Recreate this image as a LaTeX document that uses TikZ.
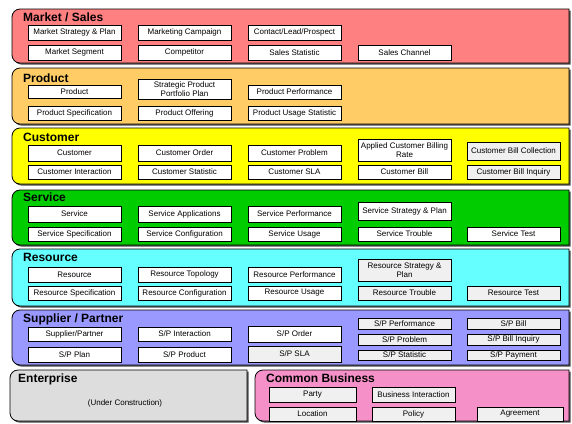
\documentclass[tikz,border=0pt]{standalone}
\usepackage{fontspec}
\setmainfont{Liberation Sans}
\usetikzlibrary{shadows}

\definecolor{mktc}{RGB}{255,128,128}
\definecolor{prdc}{RGB}{255,204,102}
\definecolor{cusc}{RGB}{255,255,0}
\definecolor{srvc}{RGB}{0,204,0}
\definecolor{resc}{RGB}{102,255,255}
\definecolor{supc}{RGB}{153,153,255}
\definecolor{entc}{RGB}{221,221,221}
\definecolor{comc}{RGB}{245,145,200}

\tikzset{
  ent/.style={draw=black, line width=0.7pt, fill=white, inner sep=0pt,
    align=center, font=\fontsize{8}{9}\selectfont,
    drop shadow={shadow xshift=1.2pt, shadow yshift=-1.2pt, fill=black!75, opacity=1}},
  entgrey/.style={ent, fill=black!6},
  paneltitle/.style={anchor=base west, inner sep=0pt, font=\fontsize{12}{12}\selectfont\bfseries},
}

% domain panel: rounded on the left, square on the right, with a shadow
\newcommand\panel[5]{%
  \fill[black!70, xshift=1.6pt, yshift=-1.6pt]
    ({#3},{#2}) -- ({#1+8},{#2}) .. controls ({#1+3.6},{#2}) and ({#1},{#2+3.6}) .. ({#1},{#2+8})
    -- ({#1},{#4-8}) .. controls ({#1},{#4-3.6}) and ({#1+3.6},{#4}) .. ({#1+8},{#4})
    -- ({#3},{#4}) -- cycle;
  \filldraw[fill=#5, draw=black, line width=0.8pt]
    ({#3},{#2}) -- ({#1+8},{#2}) .. controls ({#1+3.6},{#2}) and ({#1},{#2+3.6}) .. ({#1},{#2+8})
    -- ({#1},{#4-8}) .. controls ({#1},{#4-3.6}) and ({#1+3.6},{#4}) .. ({#1+8},{#4})
    -- ({#3},{#4}) -- cycle;
}

% entity box given by its corners
\newcommand\entbox[7][ent]{%
  \node[#1, minimum width={(#5-#3)*1pt}, minimum height={(#6-#4)*1pt}]
    (#2) at ({(#3+#5)/2},{(#4+#6)/2}) {#7};
}

\begin{document}
\begin{tikzpicture}[x=1pt, y=-1pt]
\useasboundingbox (0,0) rectangle (572,423);
\fill[white] (0,0) rectangle (572,423);

% ---------------- Market / Sales
\panel{12}{9}{569}{63}{mktc}
\node[paneltitle] (tMkt) at (23,21) {Market / Sales};
\entbox{mStrat}{28}{25}{121}{40}{Market Strategy \& Plan}
\entbox{mCamp}{138}{25}{231}{40}{Marketing Campaign}
\entbox{mLead}{248}{25}{341}{40}{Contact/Lead/Prospect}
\entbox{mSeg}{28}{45}{121}{60}{Market Segment}
\entbox{mComp}{138}{45}{231}{60}{Competitor}
\entbox{mStat}{248}{45}{341}{60}{Sales Statistic}
\entbox{mChan}{358}{45}{451}{60}{Sales Channel}

% ---------------- Product
\panel{12}{68}{569}{124}{prdc}
\node[paneltitle] (tPrd) at (23,82) {Product};
\entbox{pProd}{28}{85}{121}{98}{Product}
\entbox{pPort}{138}{79}{231}{99}{Strategic Product\\Portfolio Plan}
\entbox{pPerf}{248}{85}{341}{99}{Product Performance}
\entbox{pSpec}{28}{106}{121}{120}{Product Specification}
\entbox{pOff}{138}{106}{231}{120}{Product Offering}
\entbox{pUse}{248}{106}{341}{120}{Product Usage Statistic}

% ---------------- Customer
\panel{12}{128}{569}{184}{cusc}
\node[paneltitle] (tCus) at (23,141) {Customer};
\entbox{cCust}{28}{145}{121}{161}{Customer}
\entbox{cOrder}{138}{145}{231}{161}{Customer Order}
\entbox{cProb}{248}{145}{341}{161}{Customer Problem}
\entbox{cRate}{358}{139}{451}{161}{Applied Customer Billing\\Rate}
\entbox[entgrey]{cColl}{467}{142}{560}{160}{Customer Bill Collection}
\entbox{cInter}{28}{165}{121}{179}{Customer Interaction}
\entbox{cStat}{138}{165}{231}{179}{Customer Statistic}
\entbox{cSLA}{248}{165}{341}{179}{Customer SLA}
\entbox{cBill}{358}{165}{451}{179}{Customer Bill}
\entbox[entgrey]{cInq}{467}{165}{560}{179}{Customer Bill Inquiry}

% ---------------- Service
\panel{12}{190}{569}{245}{srvc}
\node[paneltitle] (tSrv) at (23,201) {Service};
\entbox{sServ}{28}{206}{121}{222}{Service}
\entbox{sApp}{138}{206}{231}{222}{Service Applications}
\entbox{sPerf}{248}{206}{341}{222}{Service Performance}
\entbox{sStrat}{358}{202}{451}{220}{Service Strategy \& Plan}
\entbox{sSpec}{28}{227}{121}{241}{Service Specification}
\entbox{sConf}{138}{227}{231}{241}{Service Configuration}
\entbox{sUse}{248}{227}{341}{241}{Service Usage}
\entbox{sTrb}{358}{227}{451}{241}{Service Trouble}
\entbox{sTest}{467}{227}{560}{241}{Service Test}

% ---------------- Resource
\panel{12}{249}{569}{306}{resc}
\node[paneltitle] (tRes) at (23,261) {Resource};
\entbox{rRes}{28}{267}{121}{282}{Resource}
\entbox{rTop}{138}{267}{231}{282}{Resource Topology}
\entbox{rPerf}{248}{267}{341}{282}{Resource Performance}
\entbox[entgrey]{rStrat}{358}{259}{451}{281}{Resource Strategy \&\\Plan}
\entbox{rSpec}{28}{286}{121}{300}{Resource Specification}
\entbox{rConf}{138}{286}{231}{300}{Resource Configuration}
\entbox{rUse}{248}{286}{341}{300}{Resource Usage}
\entbox[entgrey]{rTrb}{358}{286}{451}{300}{Resource Trouble}
\entbox[entgrey]{rTest}{467}{286}{560}{300}{Resource Test}

% ---------------- Supplier / Partner
\panel{12}{310}{569}{365}{supc}
\node[paneltitle] (tSup) at (23,322) {Supplier / Partner};
\entbox{uSP}{28}{327}{121}{341}{Supplier/Partner}
\entbox{uInter}{138}{327}{231}{341}{S/P Interaction}
\entbox{uOrder}{248}{326}{341}{342}{S/P Order}
\entbox{uPlan}{28}{347}{121}{362}{S/P Plan}
\entbox{uProd}{138}{347}{231}{362}{S/P Product}
\entbox[entgrey]{uSLA}{248}{346}{341}{362}{S/P SLA}
\entbox[entgrey]{uPerf}{358}{318}{451}{329}{S/P Performance}
\entbox[entgrey]{uProb}{358}{334}{451}{345}{S/P Problem}
\entbox[entgrey]{uStat}{358}{350}{451}{360}{S/P Statistic}
\entbox[entgrey]{uBill}{467}{318}{560}{329}{S/P Bill}
\entbox[entgrey]{uInq}{467}{334}{560}{345}{S/P Bill Inquiry}
\entbox[entgrey]{uPay}{467}{350}{560}{360}{S/P Payment}

% ---------------- Enterprise
\panel{10}{370}{247}{421}{entc}
\node[paneltitle] (tEnt) at (18,382) {Enterprise};
\node[font=\fontsize{8}{9}\selectfont, inner sep=0pt] (eNote) at (125,403) {(Under Construction)};

% ---------------- Common Business
\panel{255}{370}{569}{421}{comc}
\node[paneltitle] (tCom) at (266,382) {Common Business};
\entbox[entgrey]{bParty}{269}{387}{356}{402}{Party}
\entbox[entgrey]{bInter}{372}{387}{455}{402}{Business Interaction}
\entbox[entgrey]{bLoc}{269}{407}{356}{421}{Location}
\entbox[entgrey]{bPol}{372}{407}{455}{421}{Policy}
\entbox[entgrey]{bAgr}{477}{407}{563}{421}{Agreement}
\end{tikzpicture}
\end{document}
